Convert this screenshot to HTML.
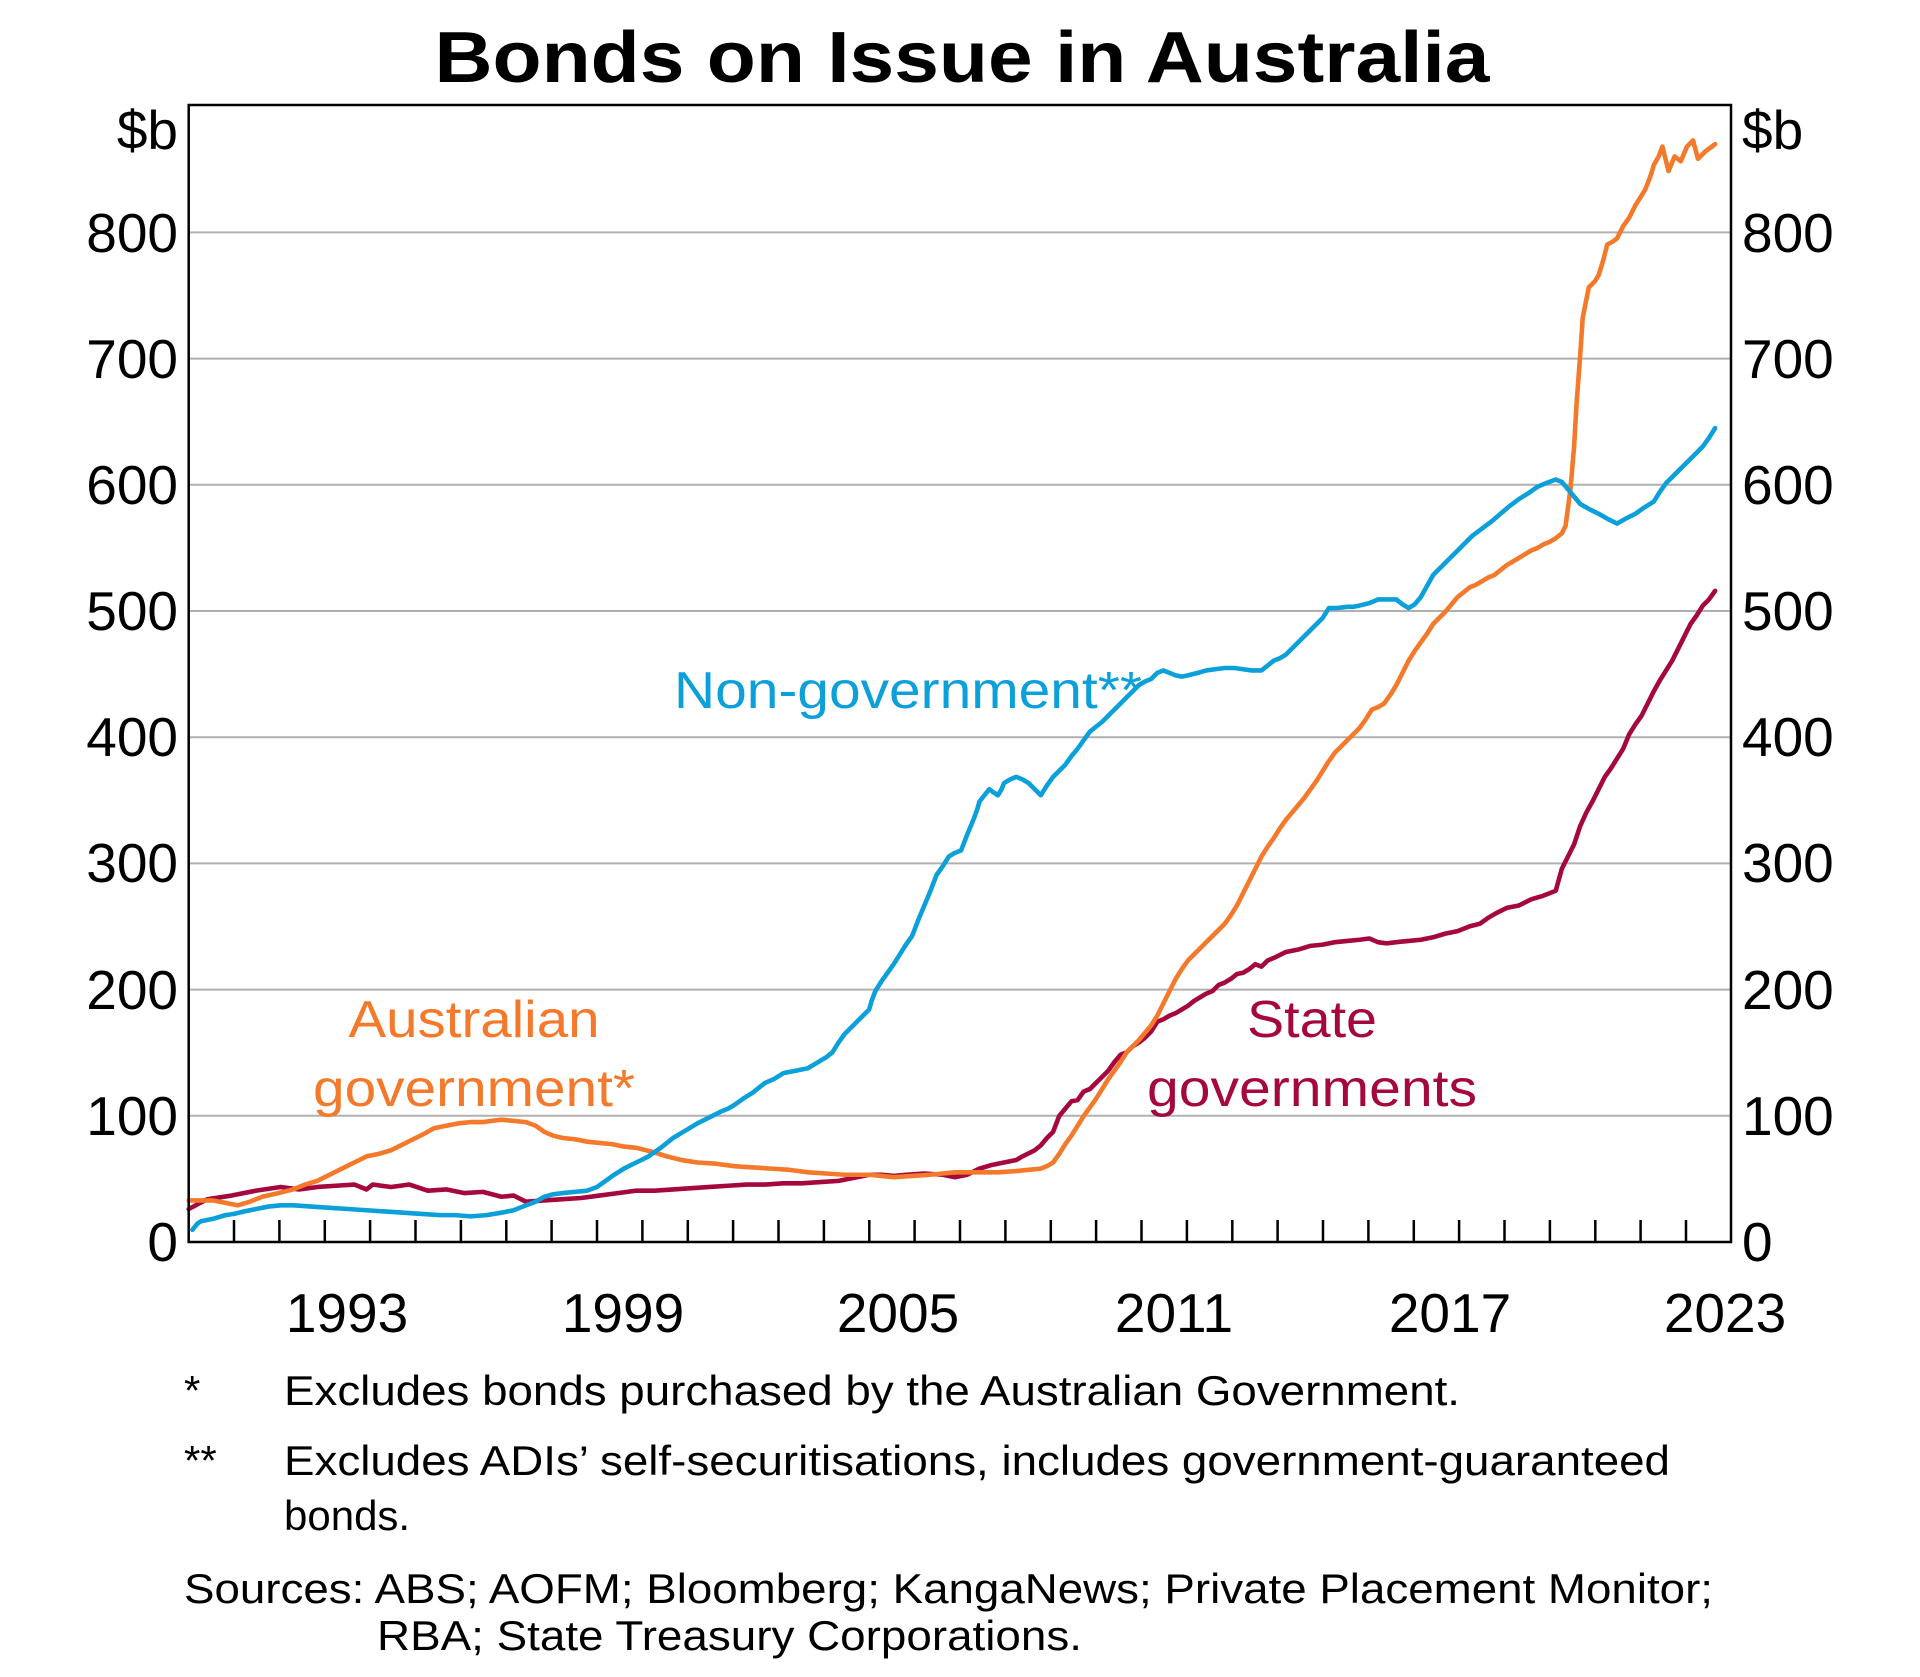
<!DOCTYPE html>
<html><head><meta charset="utf-8"><style>
html,body{margin:0;padding:0;background:#fff;}
svg{display:block;font-family:"Liberation Sans",Arial,sans-serif;}
</style></head><body>
<svg width="1920" height="1677" viewBox="0 0 1920 1677" xmlns="http://www.w3.org/2000/svg">
<rect width="1920" height="1677" fill="#fff"/>
<text x="962" y="82" font-size="72" font-weight="bold" text-anchor="middle" textLength="1055" lengthAdjust="spacingAndGlyphs">Bonds on Issue in Australia</text>
<g stroke="#b0b0b0" stroke-width="2">
<line x1="189" x2="1731" y1="1115.8" y2="1115.8"/>
<line x1="189" x2="1731" y1="989.6" y2="989.6"/>
<line x1="189" x2="1731" y1="863.4" y2="863.4"/>
<line x1="189" x2="1731" y1="737.2" y2="737.2"/>
<line x1="189" x2="1731" y1="611" y2="611"/>
<line x1="189" x2="1731" y1="484.8" y2="484.8"/>
<line x1="189" x2="1731" y1="358.6" y2="358.6"/>
<line x1="189" x2="1731" y1="232.4" y2="232.4"/>
</g>
<g font-size="55" text-anchor="end">
<text x="178" y="149">$b</text>
<text x="178" y="252">800</text>
<text x="178" y="378">700</text>
<text x="178" y="504">600</text>
<text x="178" y="630">500</text>
<text x="178" y="756">400</text>
<text x="178" y="882">300</text>
<text x="178" y="1009">200</text>
<text x="178" y="1135">100</text>
<text x="178" y="1261">0</text>
</g>
<g font-size="55" text-anchor="start">
<text x="1742" y="149">$b</text>
<text x="1742" y="252">800</text>
<text x="1742" y="378">700</text>
<text x="1742" y="504">600</text>
<text x="1742" y="630">500</text>
<text x="1742" y="756">400</text>
<text x="1742" y="882">300</text>
<text x="1742" y="1009">200</text>
<text x="1742" y="1135">100</text>
<text x="1742" y="1261">0</text>
</g>
<g font-size="55" text-anchor="middle">
<text x="347" y="1332">1993</text>
<text x="623" y="1332">1999</text>
<text x="898" y="1332">2005</text>
<text x="1174" y="1332">2011</text>
<text x="1450" y="1332">2017</text>
<text x="1725" y="1332">2023</text>
</g>
<g transform="matrix(1.226 0 0 1.224 -1.3 -0.3)" fill="none" stroke-width="4.6" stroke-linejoin="round" stroke-linecap="round">
<polyline vector-effect="non-scaling-stroke" stroke="#a5083f" points="155,988 170,980 190,977 210,973 230,970 245,972 260,970 275,969 290,968 300,972 305,968 320,970 335,968 350,973 365,972 380,975 395,974 410,978 420,977 430,982 445,981 460,980 475,979 490,977 505,975 520,973 535,973 550,972 565,971 580,970 595,969 610,968 625,968 640,967 655,967 670,966 685,965 700,962 710,960 720,960 730,961 740,960 755,959 770,960 780,962 790,960 800,955 810,952 820,950 830,948 835,945 845,940 850,936 855,930 860,925 865,912 870,906 875,900 880,899 885,892 890,890 895,885 900,880 905,875 910,868 915,862 920,860 925,855 930,852 935,848 940,843 945,835 950,833 955,830 960,828 965,825 970,822 975,818 980,815 985,812 990,810 995,805 1000,803 1005,800 1010,796 1015,795 1020,792 1025,788 1030,790 1035,785 1042,782 1050,778 1060,776 1070,773 1080,772 1090,770 1100,769 1110,768 1118,767 1125,770 1132,771 1140,770 1150,769 1160,768 1170,766 1180,763 1190,761 1200,757 1208,755 1215,750 1222,746 1230,742 1240,740 1250,735 1260,732 1270,728 1275,710 1280,700 1285,690 1290,675 1295,664 1300,655 1305,645 1310,635 1315,628 1320,620 1325,612 1330,600 1335,592 1340,585 1345,575 1350,565 1355,556 1360,548 1365,540 1370,530 1375,520 1380,510 1385,503 1390,495 1395,490 1400,483"/>
<polyline vector-effect="non-scaling-stroke" stroke="#f4792a" points="155,981 165,981 175,981 185,983 195,985 205,982 215,978 228,975 240,972 250,968 260,965 270,960 280,955 290,950 300,945 310,943 320,940 330,935 340,930 348,926 355,922 365,920 375,918 385,917 395,917 402,916 410,915 420,916 430,917 438,920 445,925 452,928 460,930 470,931 480,933 490,934 500,935 510,937 520,938 532,941 545,945 557,948 570,950 585,951 600,953 615,954 630,955 645,956 660,958 675,959 690,960 700,960 710,960 720,961 730,962 745,961 760,960 770,959 780,958 790,958 800,958 815,958 830,957 840,956 850,955 855,953 860,950 865,943 870,935 875,928 880,920 885,912 890,905 895,898 900,890 905,882 910,875 915,868 920,860 925,855 930,850 935,844 940,838 945,830 950,820 955,810 960,800 965,792 970,785 975,780 980,775 985,770 990,765 995,760 1000,755 1005,748 1010,740 1015,730 1020,720 1025,710 1030,700 1035,692 1040,685 1045,677 1050,670 1055,664 1060,658 1065,652 1070,645 1075,638 1080,630 1085,622 1090,615 1095,610 1100,605 1105,600 1110,595 1115,588 1120,580 1125,578 1130,575 1135,568 1140,560 1145,550 1150,540 1155,532 1160,525 1165,518 1170,510 1175,505 1180,500 1185,494 1190,488 1195,484 1200,480 1205,478 1210,475 1215,472 1220,470 1225,466 1230,462 1235,459 1240,456 1245,453 1250,450 1255,448 1260,445 1265,443 1270,440 1275,436 1278,430 1280,415 1282,400 1285,365 1287,330 1290,290 1292,260 1295,245 1297,235 1302,230 1305,225 1309,212 1312,200 1316,198 1320,195 1325,185 1330,178 1335,168 1340,160 1343,155 1345,150 1348,142 1350,135 1354,128 1357,120 1362,140 1367,128 1372,132 1377,120 1382,115 1386,130 1392,124 1400,118"/>
<polyline vector-effect="non-scaling-stroke" stroke="#0ca0da" points="158,1005 162,1000 165,998 175,996 185,993 192,992 200,990 210,988 220,986 230,985 240,985 255,986 270,987 285,988 300,989 315,990 330,991 345,992 360,993 372,993 385,994 398,993 410,991 420,989 430,985 438,982 445,978 452,976 460,975 470,974 480,973 488,970 495,965 502,960 510,955 520,950 530,945 540,938 550,930 560,924 570,918 580,913 590,908 595,906 600,903 607,898 615,893 620,889 625,885 632,882 640,877 650,875 660,873 665,870 670,867 675,864 680,860 685,852 690,845 695,840 700,835 705,830 710,825 712,818 715,810 720,802 725,795 730,788 735,780 740,772 745,765 750,752 755,740 760,728 765,715 770,708 775,700 780,697 785,695 790,682 795,670 798,662 800,655 804,650 808,645 812,648 815,650 818,645 820,640 825,637 830,635 835,637 840,640 845,645 850,650 855,642 860,635 865,630 870,625 875,618 880,612 885,605 890,598 895,594 900,590 905,585 910,580 915,575 920,570 925,565 930,560 935,557 940,555 945,550 950,548 955,550 960,552 965,553 970,552 978,550 985,548 992,547 1000,546 1008,546 1015,547 1022,548 1030,548 1035,544 1040,540 1045,538 1050,535 1055,530 1060,525 1065,520 1070,515 1075,510 1080,505 1085,497 1092,497 1100,496 1105,496 1110,495 1118,493 1125,490 1132,490 1140,490 1145,494 1150,497 1155,494 1160,488 1165,479 1170,470 1175,465 1180,460 1188,452 1195,445 1202,438 1210,432 1218,426 1225,420 1232,414 1240,408 1248,403 1255,398 1262,395 1270,392 1275,394 1280,400 1285,406 1290,412 1297,416 1305,420 1312,424 1320,428 1327,424 1335,420 1342,415 1350,410 1355,402 1360,395 1365,390 1370,385 1375,380 1380,375 1385,370 1390,365 1395,358 1400,350"/>
</g>
<rect x="188.7" y="105" width="1542.3" height="1137" fill="none" stroke="#000" stroke-width="2.5"/>
<g stroke="#000" stroke-width="2.5">
<path d="M234,1242v-22M279.4,1242v-22M324.8,1242v-22M370.1,1242v-22M415.5,1242v-22M460.9,1242v-22M506.3,1242v-22M551.6,1242v-22M597,1242v-22M642.4,1242v-22M687.8,1242v-22M733.1,1242v-22M778.5,1242v-22M823.9,1242v-22M869.3,1242v-22M914.6,1242v-22M960,1242v-22M1005.4,1242v-22M1050.8,1242v-22M1096.1,1242v-22M1141.5,1242v-22M1186.9,1242v-22M1232.3,1242v-22M1277.6,1242v-22M1323,1242v-22M1368.4,1242v-22M1413.8,1242v-22M1459.1,1242v-22M1504.5,1242v-22M1549.9,1242v-22M1595.3,1242v-22M1640.6,1242v-22M1686,1242v-22"/>
</g>
<g font-size="52">
<text x="674" y="708" fill="#0ca0da" textLength="468" lengthAdjust="spacingAndGlyphs">Non-government**</text>
<text x="474" y="1037" fill="#f4792a" text-anchor="middle" textLength="251" lengthAdjust="spacingAndGlyphs">Australian</text>
<text x="474" y="1106" fill="#f4792a" text-anchor="middle" textLength="322" lengthAdjust="spacingAndGlyphs">government*</text>
<text x="1312" y="1037" fill="#a5083f" text-anchor="middle" textLength="130" lengthAdjust="spacingAndGlyphs">State</text>
<text x="1312" y="1106" fill="#a5083f" text-anchor="middle" textLength="330" lengthAdjust="spacingAndGlyphs">governments</text>
</g>
<g font-size="42">
<text x="184" y="1405">*</text>
<text x="284" y="1405" textLength="1176" lengthAdjust="spacingAndGlyphs">Excludes bonds purchased by the Australian Government.</text>
<text x="184" y="1475">**</text>
<text x="284" y="1475" textLength="1386" lengthAdjust="spacingAndGlyphs">Excludes ADIs’ self-securitisations, includes government-guaranteed</text>
<text x="284" y="1530">bonds.</text>
<text x="184" y="1603" textLength="1529" lengthAdjust="spacingAndGlyphs">Sources: ABS; AOFM; Bloomberg; KangaNews; Private Placement Monitor;</text>
<text x="377" y="1650" textLength="705" lengthAdjust="spacingAndGlyphs">RBA; State Treasury Corporations.</text>
</g>
</svg>
</body></html>
